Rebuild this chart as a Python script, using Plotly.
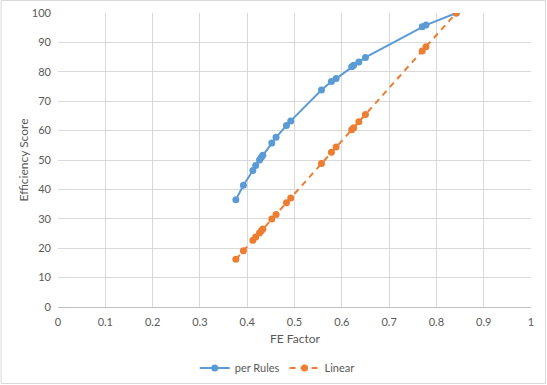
import plotly.graph_objects as go

fe_factor = [0.376, 0.392, 0.412, 0.418, 0.426, 0.430, 0.433, 0.452, 0.461, 0.483, 0.492,
             0.557, 0.578, 0.588, 0.621, 0.625, 0.636, 0.650, 0.770, 0.778, 0.842]
per_rules = [36.5, 41.4, 46.4, 48.1, 50.0, 50.9, 51.6, 55.8, 57.7, 61.7, 63.3,
             73.8, 76.7, 77.7, 81.7, 82.2, 83.3, 84.9, 95.3, 95.9, 100.0]
linear = [16.2, 19.1, 22.7, 23.8, 25.2, 25.9, 26.5, 29.9, 31.5, 35.5, 37.1,
          48.8, 52.6, 54.4, 60.3, 61.0, 63.0, 65.5, 87.1, 88.5, 100.0]

W, H = 547, 385
L, R, T, B = 57.5, 16, 13, 78
pw, ph = W - L - R, H - T - B

font = dict(family="Lato, 'Liberation Sans', sans-serif", size=11, color="#595959")

fig = go.Figure()
fig.add_trace(go.Scatter(x=fe_factor, y=per_rules, mode="lines+markers", name="per Rules",
                         line=dict(color="#5b9bd5", width=2),
                         marker=dict(color="#5b9bd5", size=7)))
fig.add_trace(go.Scatter(x=fe_factor, y=linear, mode="lines+markers", name="Linear",
                         line=dict(color="#ed7d31", width=2, dash="6px,5px"),
                         marker=dict(color="#ed7d31", size=7)))

fig.update_layout(
    width=W, height=H,
    margin=dict(l=L, r=R, t=T, b=B, autoexpand=False),
    paper_bgcolor="white", plot_bgcolor="white",
    font=font,
    showlegend=True,
    legend=dict(orientation="h", x=(277 - L) / pw, xanchor="center", y=-(368 - T - ph) / ph,
                yanchor="middle", font=dict(size=11, color="#595959"),
                tracegroupgap=0),
    xaxis=dict(range=[0, 1], dtick=0.1, tick0=0, showgrid=True, gridcolor="#d9d9d9",
               gridwidth=1, zeroline=False, showline=True, linecolor="#bfbfbf", linewidth=1,
               ticks="", ticklabelstandoff=5, automargin=False),
    yaxis=dict(range=[0, 100], dtick=10, tick0=0, showgrid=True, gridcolor="#d9d9d9",
               gridwidth=1, zeroline=False, showline=False, ticks="", ticklabelstandoff=6,
               automargin=False),
    annotations=[
        dict(text="FE Factor", xref="paper", yref="paper", x=0.5, y=-(339 - T - ph) / ph,
             xanchor="center", yanchor="middle", showarrow=False,
             font=dict(size=12, color="#595959")),
        dict(text="Efficiency Score", xref="paper", yref="paper", x=-(L - 22) / pw, y=0.5,
             xanchor="center", yanchor="middle", textangle=-90, showarrow=False,
             font=dict(size=12, color="#595959")),
    ],
    shapes=[dict(type="rect", xref="paper", yref="paper",
                 x0=-(L - 0.5) / pw, x1=1 + (R - 1.5) / pw,
                 y0=-(B - 1.5) / ph, y1=1 + (T - 0.5) / ph,
                 line=dict(color="#d9d9d9", width=1), fillcolor="rgba(0,0,0,0)")],
)

fig.write_html("out.html", config={"displayModeBar": False},
               post_script="document.body.style.margin='0';")
